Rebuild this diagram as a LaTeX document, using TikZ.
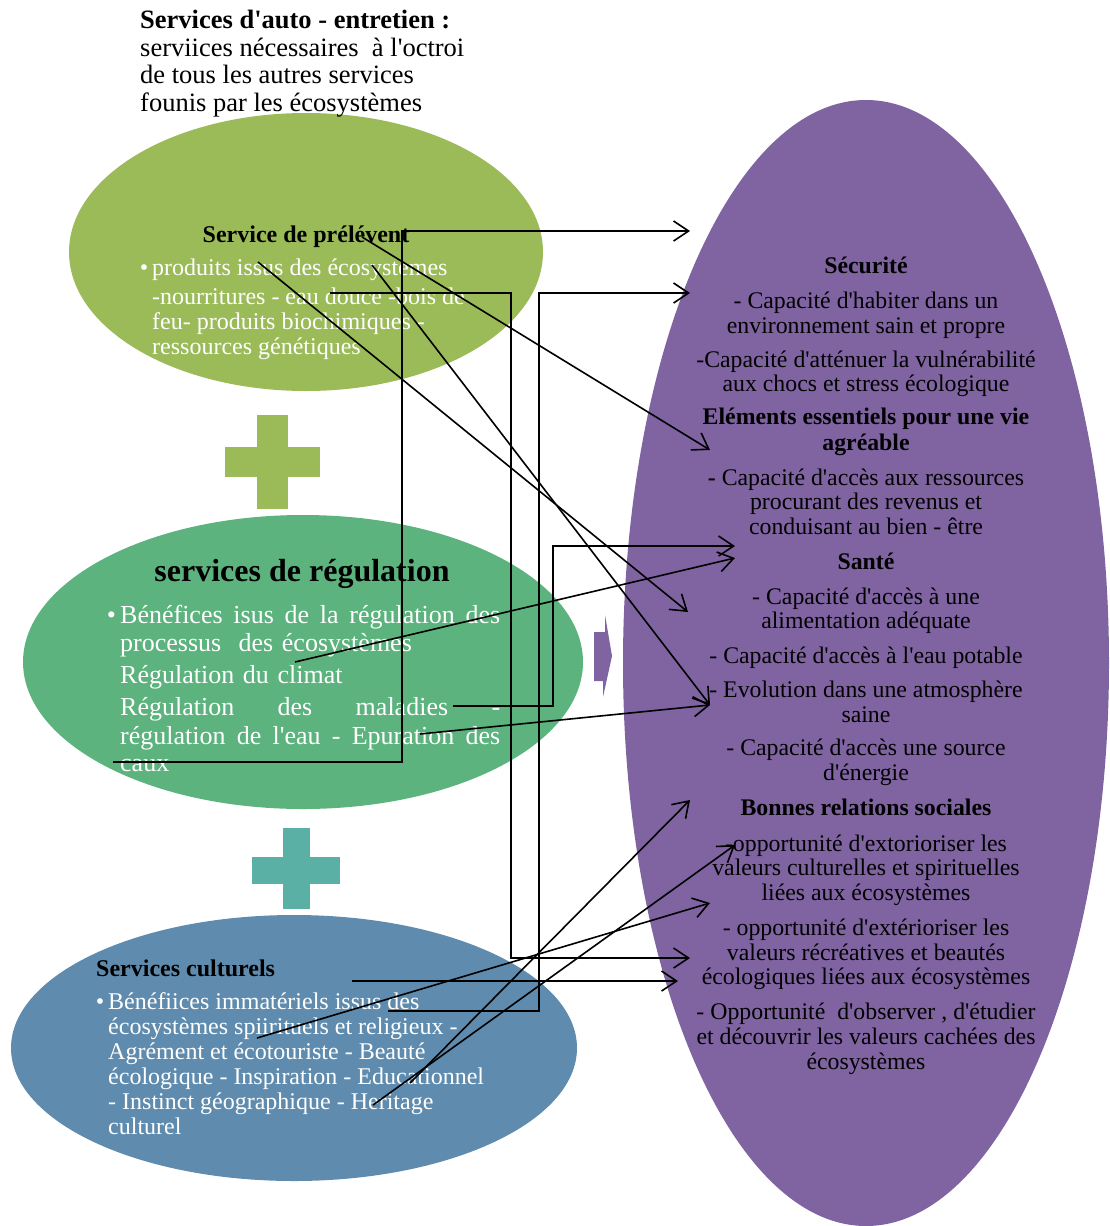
\documentclass[tikz,border=0pt]{standalone}
\usepackage{fontspec}
\setmainfont{Liberation Serif}[Ligatures=TeXOff]
\usetikzlibrary{arrows.meta}

\definecolor{vertprel}{HTML}{9BBB59}
\definecolor{vertreg}{HTML}{5CB37E}
\definecolor{turquoise}{HTML}{5BB0A5}
\definecolor{bleucult}{HTML}{5F8CAE}
\definecolor{violet}{HTML}{8064A2}

\tikzset{
  lien/.style={draw=black, line width=1.6pt, -{Straight Barb[length=15pt,width=20pt,line width=1.6pt]}},
  texteblanc/.style={text=white, inner sep=0pt, anchor=north west, align=left},
  textenoir/.style={text=black, inner sep=0pt},
}

\begin{document}
\begin{tikzpicture}[x=1pt,y=-1pt]
      \useasboundingbox (0,0) rectangle (1109,1226);

      %ellipses
      \fill[vertprel] (306,252) ellipse [x radius=237, y radius=139];
      \fill[vertreg] (303,662) ellipse [x radius=280, y radius=147];
      \fill[bleucult] (294,1048) ellipse [x radius=283, y radius=133];
      \fill[violet] (866,663) ellipse [x radius=243, y radius=563];

      %signes plus
      \fill[vertprel] (257,415) rectangle (288,509);
      \fill[vertprel] (225,447) rectangle (320,477);
      \fill[turquoise] (283,828) rectangle (310,909);
      \fill[turquoise] (252,857) rectangle (340,884);

      %petite fleche
      \fill[violet] (594,632) -- (605,632) -- (605,615) -- (612,656) -- (603,697) -- (603,681) -- (594,681) -- cycle;

      %textes
      \node[textenoir, anchor=north west, align=left, font=\fontsize{26.5}{27.5}\selectfont] (autoentretien) at (140,10)
        {\textbf{Services d'auto - entretien :}\\serviices nécessaires \ à l'octroi\\de tous les autres services\\founis par les écosystèmes};

      \node[textenoir, font=\bfseries\fontsize{24}{25}\selectfont] (prelevent) at (306,237) {Service de prélévent};
      \node[texteblanc, font=\fontsize{24}{25}\selectfont] (prelevent-txt) at (152,259)
        {\llap{\textbullet\,}produits issus des écosystemes\\[4pt]
         -nourritures - eau douce -bois de\\feu- produits biochimiques -\\ressources génétiques};

      \node[textenoir, font=\bfseries\fontsize{32}{34}\selectfont] (regulation) at (302,574) {services de régulation};
      \node[texteblanc, text width=380pt, font=\fontsize{26}{27.5}\selectfont] (regulation-txt) at (120,605)
        {\llap{\textbullet\,}\makebox[380pt][l]{Bénéfices\hfill isus\hfill de\hfill la\hfill régulation\hfill des}\\
         processus \ des écosystèmes\\[4.5pt]
         Régulation du climat\\[4.5pt]
         \makebox[380pt][l]{Régulation\hfill des\hfill maladies\hfill -}\\[1.5pt]
         \makebox[380pt][l]{régulation\hfill de\hfill l'eau\hfill -\hfill Epuration\hfill des}\\
         caux};

      \node[textenoir, anchor=west, font=\bfseries\fontsize{24}{25}\selectfont] (culturels) at (96,968) {Services culturels};
      \node[texteblanc, font=\fontsize{24}{25}\selectfont] (culturels-txt) at (108,992)
        {\llap{\textbullet\,}Bénéfiices immatériels issus des\\
         écosystèmes spiirituels et religieux -\\
         Agrément et écotouriste - Beauté\\
         écologique - Inspiration - Educationnel\\
         - Instinct géographique - Heritage\\
         culturel};

      \node[textenoir, anchor=north, align=center, font=\fontsize{23.8}{24.75}\selectfont] (bienetre) at (866,257)
        {\textbf{Sécurité}\\[10pt]
         - Capacité d'habiter dans un\\
         environnement sain et propre\\[9pt]
         -Capacité d'atténuer la vulnérabilité\\
         aux chocs et stress écologique\\[8pt]
         \textbf{Eléments essentiels pour une vie}\\[1pt]
         \textbf{agréable}\\[10pt]
         \textbf{-} Capacité d'accès aux ressources\\
         procurant des revenus et\\
         conduisant au bien - être\\[10pt]
         \textbf{Santé}\\[10pt]
         - Capacité d'accès à une\\
         alimentation adéquate\\[10pt]
         - Capacité d'accès à l'eau potable\\[9pt]
         - Evolution dans une atmosphère\\
         saine\\[9pt]
         - Capacité d'accès une source\\
         d'énergie\\[10pt]
         \textbf{Bonnes relations sociales}\\[11pt]
         -opportunité d'extorioriser les\\
         valeurs culturelles et spirituelles\\
         liées aux écosystèmes\\[10pt]
         - opportunité d'extérioriser les\\
         valeurs récréatives et beautés\\
         écologiques liées aux écosystèmes\\[10pt]
         - Opportunité \ d'observer , d'étudier\\
         et découvrir les valeurs cachées des\\
         écosystèmes};

      %points de depart
      \coordinate (prel-titre) at (362,237);
      \coordinate (prel-produits) at (258,262);
      \coordinate (prel-eco) at (372,265);
      \coordinate (prel-nourr) at (330,293);
      \coordinate (reg-climat) at (295,662);
      \coordinate (reg-maladies) at (453,706);
      \coordinate (reg-epuration) at (420,734);
      \coordinate (reg-caux) at (113,762);
      \coordinate (cult-titre) at (352,981);
      \coordinate (cult-issus) at (388,1011);
      \coordinate (cult-spirit) at (257,1038);
      \coordinate (cult-educ) at (410,1083);
      \coordinate (cult-heritage) at (373,1105);

      %points d'arrivee
      \coordinate (secu-a) at (690,231);
      \coordinate (secu-b) at (690,293);
      \coordinate (elem-a) at (710,450);
      \coordinate (sante-a) at (735,546);
      \coordinate (sante-b) at (735,558);
      \coordinate (sante-alim) at (688,612);
      \coordinate (sante-atmo) at (710,705);
      \coordinate (social-titre) at (690,800);
      \coordinate (social-a) at (735,845);
      \coordinate (social-b) at (710,903);
      \coordinate (social-recre) at (690,958);
      \coordinate (social-ecol) at (678,981);

      %fleches
      \draw[lien] (reg-caux) -- (402,762) |- (secu-a);
      \draw[lien] (prel-produits) -- (sante-alim);
      \draw[lien] (prel-titre) -- (elem-a);
      \draw[lien] (prel-eco) -- (sante-atmo);
      \draw[lien] (prel-nourr) -| (511,958) -- (social-recre);
      \draw[lien] (cult-issus) -- (539,1011) |- (secu-b);
      \draw[lien] (cult-titre) -- (social-ecol);
      \draw[lien] (reg-climat) -- (sante-b);
      \draw[lien] (reg-maladies) -- (553,706) |- (sante-a);
      \draw[lien] (reg-epuration) -- (sante-atmo);
      \draw[lien] (cult-spirit) -- (social-b);
      \draw[lien] (cult-educ) -- (social-titre);
      \draw[lien] (cult-heritage) -- (social-a);
\end{tikzpicture}
\end{document}
